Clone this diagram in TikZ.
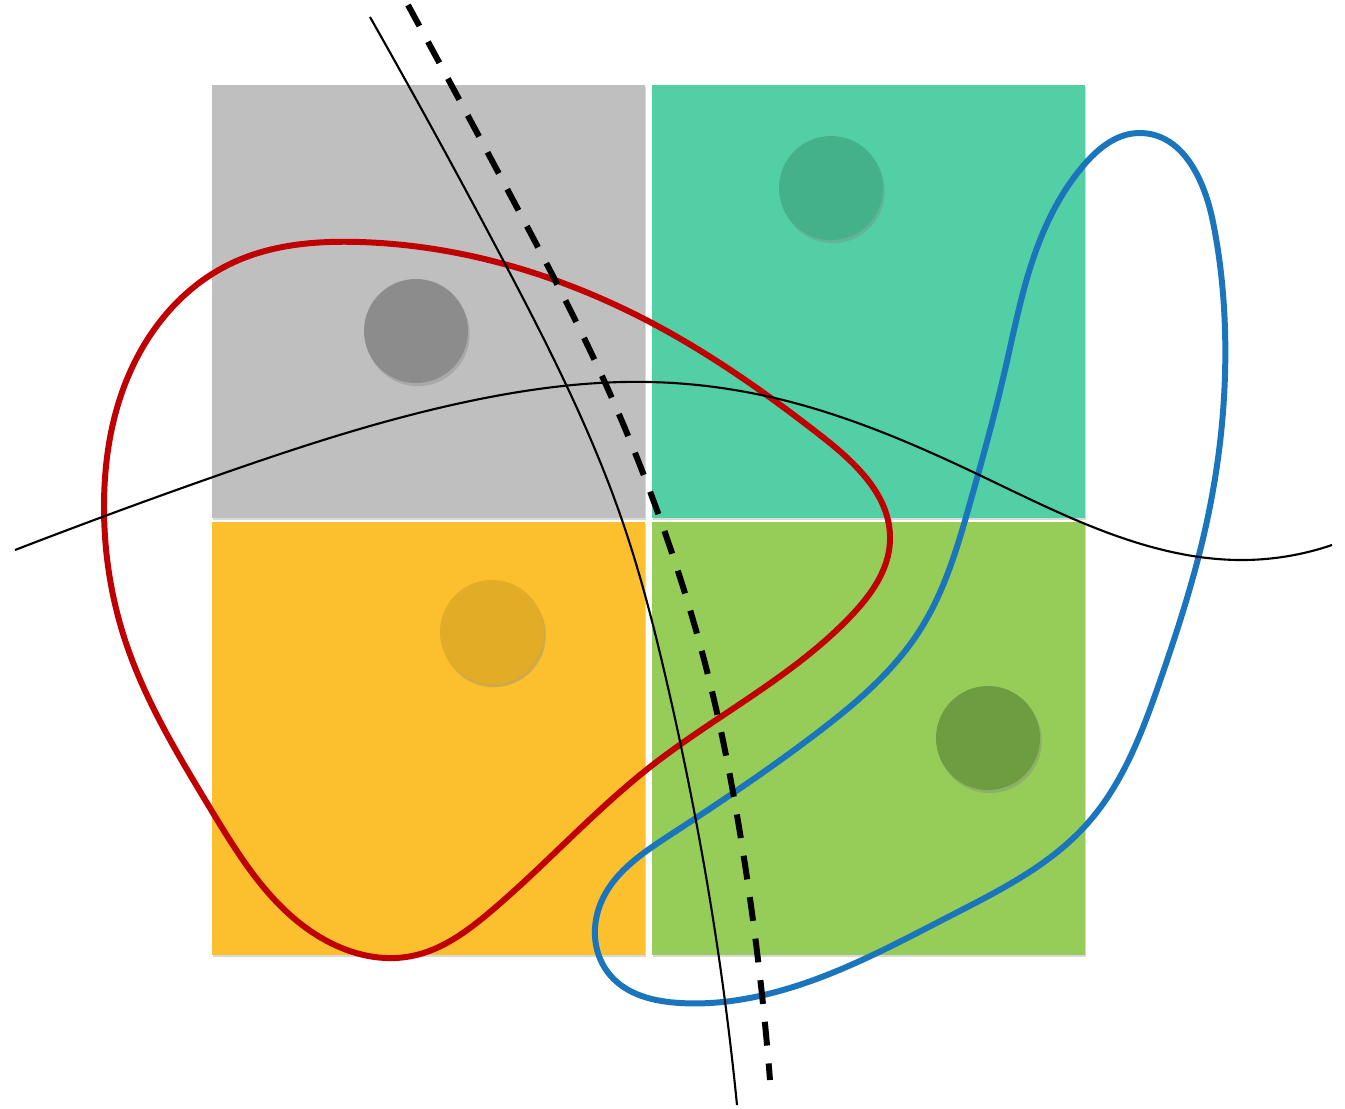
\documentclass[tikz,border=0pt]{standalone}
\usetikzlibrary{shadows,hobby}
\definecolor{rgray}{HTML}{BFBFBF}
\definecolor{rteal}{HTML}{53CFA5}
\definecolor{ryellow}{HTML}{FCBF2D}
\definecolor{rgreen}{HTML}{95CD58}
\definecolor{cgray}{HTML}{8C8C8C}
\definecolor{cteal}{HTML}{45B18B}
\definecolor{cyellow}{HTML}{E2AC26}
\definecolor{cgreen}{HTML}{6E9C40}
\definecolor{redline}{HTML}{C00000}
\definecolor{blueline}{HTML}{1B75BC}
\tikzset{
  panel/.style={drop shadow={shadow xshift=0.3pt,shadow yshift=-0.6pt,opacity=0.3}},
  dot/.style={drop shadow={shadow xshift=0.5pt,shadow yshift=-0.9pt,opacity=0.35}},
  thickloop/.style={line width=1.7pt, line join=round},
  thinline/.style={line width=0.6pt, black},
  dashline/.style={line width=1.7pt, black, dash pattern=on 6.8pt off 5.1pt}
}
\begin{document}
\begin{tikzpicture}[x=0.01cm,y=-0.01cm]
\useasboundingbox (0,0) rectangle (1345,1108);
% panels
\fill[rgray,panel] (212,85) rectangle (645,518);
\fill[rteal,panel] (652,85) rectangle (1085,518);
\fill[ryellow,panel] (212,522) rectangle (645,955);
\fill[rgreen,panel] (652,522) rectangle (1085,955);
% dots
\fill[cgray,dot] (416,331) circle (52);
\fill[cteal,dot] (831,188) circle (52);
\fill[cyellow,dot] (492,632) circle (52);
\fill[cgreen,dot] (988,738) circle (52);
% red loop
\draw[thickloop, redline, use Hobby shortcut, closed=true]
  (360,242) .. (650,322) .. (820,435) .. (890,540) .. (850,617) .. (650,767)
  .. (490,912) .. (412,956) .. (325,940) .. (210,808) .. (125,640)
  .. (104,505) .. (140,352) .. (230,264);
% blue loop
\draw[thickloop, blueline, use Hobby shortcut, closed=true]
  (1140,133) .. (1213,222) .. (1225,330) .. (1205,530) .. (1160,681)
  .. (1087,824) .. (950,916) .. (783,990) .. (680,1003) .. (610,975)
  .. (600,905) .. (670,835) .. (817,733) .. (920,630) .. (970,503)
  .. (1005,370) .. (1040,240) .. (1083,166);
% wave
\draw[thinline, use Hobby shortcut]
  (15,550) .. (213,477) .. (480,399) .. (650,382) .. (783,400) .. (973,472)
  .. (1083,523) .. (1240,560) .. (1332,545);
% steep thin curve
\draw[thinline, use Hobby shortcut]
  (370,17) .. (503,260) .. (622,520) .. (667,683) .. (710,900) .. (737,1105);
% dashed curve
\draw[dashline, use Hobby shortcut]
  (408,5) .. (513,200) .. (607,387) .. (663,527) .. (710,683) .. (740,833)
  .. (770,1080);
\end{tikzpicture}
\end{document}
